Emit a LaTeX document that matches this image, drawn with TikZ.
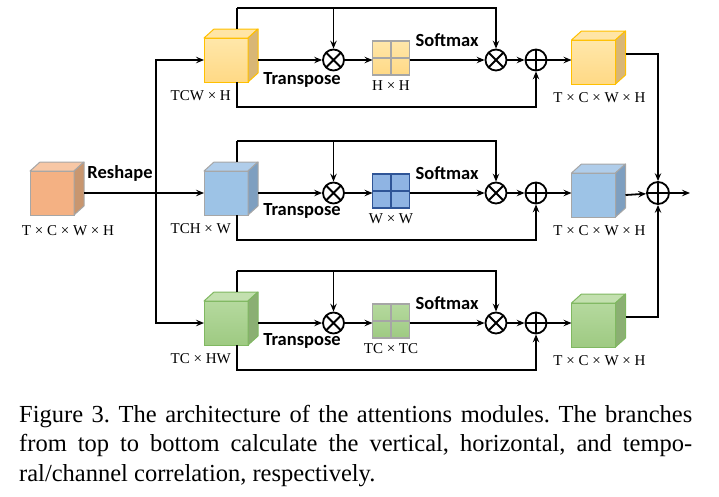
\documentclass[tikz,border=0pt]{standalone}
\usepackage{fontspec}
\setmainfont{Liberation Serif}
\newfontfamily\labfont{Carlito}
\usetikzlibrary{positioning}
\usetikzlibrary{calc}
\usetikzlibrary{arrows.meta}

\definecolor{cubegray}{HTML}{A6A6A6}
\definecolor{orfront}{HTML}{F4B183}
\definecolor{ortop}{HTML}{F7C7A5}
\definecolor{orside}{HTML}{C8966F}
\definecolor{yelborder}{HTML}{FFC000}
\definecolor{yelfronta}{HTML}{FFE7AA}
\definecolor{yelfrontb}{HTML}{FFD985}
\definecolor{yeltop}{HTML}{FFE5A6}
\definecolor{yelside}{HTML}{D8B676}
\definecolor{blufront}{HTML}{9DC3E6}
\definecolor{blutop}{HTML}{B0CDEA}
\definecolor{bluside}{HTML}{7E9FC0}
\definecolor{blumat}{HTML}{8FB4E3}
\definecolor{bluborder}{HTML}{2F5597}
\definecolor{grnborder}{HTML}{80B861}
\definecolor{grnfronta}{HTML}{B5D99E}
\definecolor{grnfrontb}{HTML}{9ECA82}
\definecolor{grntop}{HTML}{C3E0AF}
\definecolor{grnside}{HTML}{8BAF73}

% top and side faces of a cube node: name, border, top, side
\newcommand{\cubefaces}[4]{%
  \filldraw[draw=#2,fill=#3,line width=1pt,line join=round] (#1.north west) -- ++(10pt,9pt) -- ++(44pt,0pt) -- (#1.north east) -- cycle;
  \filldraw[draw=#2,fill=#4,line width=1pt,line join=round] (#1.north east) -- ++(10pt,9pt) -- ++(0pt,-44pt) -- (#1.south east) -- cycle;
}

\begin{document}
\begin{tikzpicture}[x=1pt,y=-1pt,
  cube/.style={rectangle,minimum width=44pt,minimum height=44pt,line width=1pt,inner sep=0pt,outer sep=0pt},
  mat/.style={rectangle,draw=#1,line width=1.2pt,minimum width=37pt,minimum height=34pt,inner sep=0pt,outer sep=0pt,
    path picture={\draw[#1,line width=1.2pt] (path picture bounding box.north) -- (path picture bounding box.south) (path picture bounding box.west) -- (path picture bounding box.east);}},
  otimes/.style={circle,draw,line width=1.8pt,minimum size=21pt,inner sep=0pt,
    path picture={\draw[line width=1.8pt] (path picture bounding box.north west) -- (path picture bounding box.south east) (path picture bounding box.south west) -- (path picture bounding box.north east);}},
  oplus/.style={circle,draw,line width=1.8pt,minimum size=21pt,inner sep=0pt,
    path picture={\draw[line width=1.8pt] (path picture bounding box.north) -- (path picture bounding box.south) (path picture bounding box.west) -- (path picture bounding box.east);}},
  arr/.style={line width=1.8pt,-{Stealth[length=8pt,width=6.5pt,inset=3pt]}},
  line/.style={line width=1.8pt},
  dim/.style={font=\fontsize{15}{17}\selectfont,inner sep=0pt},
  op/.style={font=\labfont\bfseries\fontsize{18.5}{20}\selectfont,inner sep=0pt}]

\useasboundingbox (0,0) rectangle (719,496);

% input
\node[cube,draw=cubegray,fill=orfront] (inp) at (52,193) {};
\cubefaces{inp}{cubegray}{ortop}{orside}
\node[dim,anchor=north] (inplab) at ([xshift=16pt,yshift=-10pt]inp.south) {T × C × W × H};
\coordinate (split) at (156,193);

% cubes after reshape
\node[cube,draw=yelborder,top color=yelfronta,bottom color=yelfrontb] (topc) at (226,60) {};
\cubefaces{topc}{yelborder}{yeltop}{yelside}
\node[dim,anchor=north east] (toplab) at ([xshift=-17pt,yshift=-8pt]topc.south east) {TCW × H};
\node[cube,draw=cubegray,fill=blufront] (midc) at (226,193) {};
\cubefaces{midc}{cubegray}{blutop}{bluside}
\node[dim,anchor=north east] (midlab) at ([xshift=-17pt,yshift=-8pt]midc.south east) {TCH × W};
\node[cube,draw=grnborder,top color=grnfronta,bottom color=grnfrontb] (botc) at (226,323) {};
\cubefaces{botc}{grnborder}{grntop}{grnside}
\node[dim,anchor=north east] (botlab) at ([xshift=-17pt,yshift=-8pt]botc.south east) {TC × HW};

\draw[arr] ([xshift=10pt]inp.east) -- (midc);
\node[op] (reshape) at (120,173) {Reshape};
\draw[arr] (split) |- (topc);
\draw[arr] (split) |- (botc);

% top branch
\node[otimes] (tm1) at (333.5,60) {};
\node[mat=cubegray,top color=yelfronta,bottom color=yelfrontb] (tmat) at (391,58) {};
\node[dim,below=5pt of tmat] (tmatlab) {H × H};
\node[otimes] (tm2) at (496,60) {};
\node[oplus] (tp) at (536,60) {};
\node[cube,draw=yelborder,top color=yelfronta,bottom color=yelfrontb] (to) at (593.5,62) {};
\cubefaces{to}{yelborder}{yeltop}{yelside}
\node[dim,anchor=north] (tolab) at ([xshift=6pt,yshift=-8pt]to.south) {T × C × W × H};
\coordinate (ttop) at ([xshift=11pt,yshift=30pt]topc.north);
\coordinate (tbot) at ([xshift=11pt,yshift=-25pt]topc.south);
\draw[arr] ([xshift=10pt]topc.east) -- (tm1);
\node[op] (ttr) at (302,80) {Transpose};
\draw[arr] (tm1) -- (tm1 -| tmat.west);
\draw[arr] (tm1 -| tmat.east) -- (tm2) node[op,midway,above=12pt] (tsm) {Softmax};
\draw[arr] (tm2) -- (tp);
\draw[arr] (tp) -- (tp -| to.west);
\draw[line] ([xshift=11pt,yshift=9pt]topc.north) -- (ttop);
\draw[arr] (ttop) -| (tm2);
\draw[arr] (ttop -| tm1) -- (tm1);
\draw[arr] ([xshift=11pt]topc.south) -- (tbot) -| (tp);

% middle branch
\node[otimes] (mm1) at (333.5,193) {};
\node[mat=bluborder,fill=blumat] (mmat) at (391,191) {};
\node[dim,below=5pt of mmat] (mmatlab) {W × W};
\node[otimes] (mm2) at (496,193) {};
\node[oplus] (mp) at (536,193) {};
\node[cube,draw=cubegray,fill=blufront] (mo) at (593.5,195) {};
\cubefaces{mo}{cubegray}{blutop}{bluside}
\node[dim,anchor=north] (molab) at ([xshift=6pt,yshift=-8pt]mo.south) {T × C × W × H};
\coordinate (mtop) at ([xshift=11pt,yshift=30pt]midc.north);
\coordinate (mbot) at ([xshift=11pt,yshift=-25pt]midc.south);
\draw[arr] ([xshift=10pt]midc.east) -- (mm1);
\node[op] (mtr) at (302,211) {Transpose};
\draw[arr] (mm1) -- (mm1 -| mmat.west);
\draw[arr] (mm1 -| mmat.east) -- (mm2) node[op,midway,above=12pt] (msm) {Softmax};
\draw[arr] (mm2) -- (mp);
\draw[arr] (mp) -- (mp -| mo.west);
\draw[line] ([xshift=11pt,yshift=9pt]midc.north) -- (mtop);
\draw[arr] (mtop) -| (mm2);
\draw[arr] (mtop -| mm1) -- (mm1);
\draw[arr] ([xshift=11pt]midc.south) -- (mbot) -| (mp);

% bottom branch
\node[otimes] (bm1) at (333.5,323) {};
\node[mat=cubegray,top color=grnfronta,bottom color=grnfrontb] (bmat) at (391,321) {};
\node[dim,below=5pt of bmat] (bmatlab) {TC × TC};
\node[otimes] (bm2) at (496,323) {};
\node[oplus] (bp) at (536,323) {};
\node[cube,draw=grnborder,top color=grnfronta,bottom color=grnfrontb] (bo) at (593.5,325) {};
\cubefaces{bo}{grnborder}{grntop}{grnside}
\node[dim,anchor=north] (bolab) at ([xshift=6pt,yshift=-8pt]bo.south) {T × C × W × H};
\coordinate (btop) at ([xshift=11pt,yshift=30pt]botc.north);
\coordinate (bbot) at ([xshift=11pt,yshift=-25pt]botc.south);
\draw[arr] ([xshift=10pt]botc.east) -- (bm1);
\node[op] (btr) at (302,341) {Transpose};
\draw[arr] (bm1) -- (bm1 -| bmat.west);
\draw[arr] (bm1 -| bmat.east) -- (bm2) node[op,midway,above=12pt] (bsm) {Softmax};
\draw[arr] (bm2) -- (bp);
\draw[arr] (bp) -- (bp -| bo.west);
\draw[line] ([xshift=11pt,yshift=9pt]botc.north) -- (btop);
\draw[arr] (btop) -| (bm2);
\draw[arr] (btop -| bm1) -- (bm1);
\draw[arr] ([xshift=11pt]botc.south) -- (bbot) -| (bp);

% fusion
\node[oplus,minimum size=22pt] (sum) at (658,193) {};
\coordinate (outend) at (690,193);
\draw[arr] ([xshift=10pt,yshift=8pt]to.east) -| (sum);
\draw[arr] ([xshift=10pt]mo.east) -- (sum);
\draw[arr] ([xshift=10pt,yshift=8pt]bo.east) -| (sum);
\draw[arr] (sum) -- (outend);

% caption
\node[anchor=north west,inner sep=0pt,text width=673pt,align=justify,font=\fontsize{24.5}{29.5}\selectfont\frenchspacing] (cap) at (19,405)
  {Figure 3. The architecture of the attentions modules. The branches\linebreak from top to bottom calculate the vertical, horizontal, and tempo-\linebreak ral/channel correlation, respectively.};
\end{tikzpicture}
\end{document}
